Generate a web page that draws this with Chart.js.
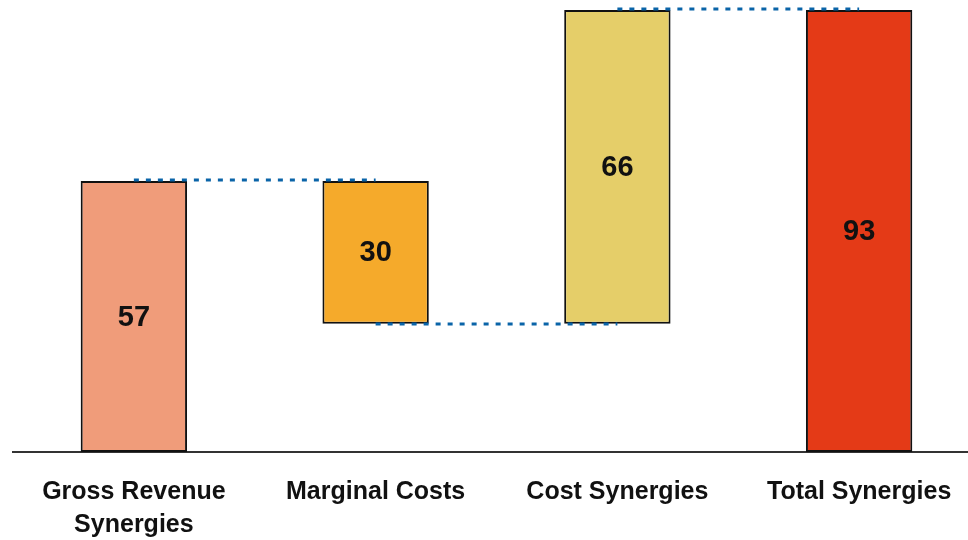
<!DOCTYPE html>
<html>
<head>
<meta charset="utf-8">
<script src="https://cdn.jsdelivr.net/npm/chart.js@4/dist/chart.umd.min.js"></script>
<style>
  html, body { margin: 0; padding: 0; background: #fff; overflow: hidden; }
  #wrap { width: 980px; height: 540px; }
</style>
</head>
<body>
<div id="wrap"><canvas id="grafico" width="980" height="540"></canvas></div>
<script>
// categorias e valores do waterfall
const categorias = [['Gross Revenue', 'Synergies'], 'Marginal Costs', 'Cost Synergies', 'Total Synergies'];
const valores = [57, -30, 66, 93];
const ehTotal = [false, false, false, true];
const cores = ['#F09C7A', '#F5AA2B', '#E5CE69', '#E43A17'];

// monta os intervalos [inicio, fim] de cada barra a partir dos valores
var acumulado = 0;
const intervalos = [];
for (var i = 0; i < valores.length; i++) {
    if (ehTotal[i]) {
        intervalos.push([0, valores[i]]);
        acumulado = valores[i];
    } else {
        intervalos.push([acumulado, acumulado + valores[i]]);
        acumulado += valores[i];
    }
}

// linhas pontilhadas ligando o fim de uma barra ao começo da próxima
const conectores = {
    id: 'conectores',
    afterDatasetsDraw(chart) {
        const ctx = chart.ctx;
        const x = chart.scales.x;
        const y = chart.scales.y;
        ctx.save();
        ctx.strokeStyle = '#0A64A8';
        ctx.lineWidth = 3;
        ctx.setLineDash([5, 7]);
        for (var i = 0; i < intervalos.length - 1; i++) {
            const nivel = intervalos[i][1];
            const topo = nivel >= Math.max(intervalos[i + 1][0], intervalos[i + 1][1]);
            const py = y.getPixelForValue(nivel) + (topo ? -1 : 0.3);
            ctx.beginPath();
            ctx.moveTo(x.getPixelForValue(i), py);
            ctx.lineTo(x.getPixelForValue(i + 1), py);
            ctx.stroke();
        }
        ctx.restore();
    }
};

// valor escrito no meio de cada barra
const rotulos = {
    id: 'rotulos',
    afterDatasetsDraw(chart) {
        const ctx = chart.ctx;
        const meta = chart.getDatasetMeta(0);
        ctx.save();
        ctx.font = 'bold 29px "Liberation Sans", Arial, sans-serif';
        ctx.fillStyle = '#111';
        ctx.textAlign = 'center';
        ctx.textBaseline = 'middle';
        meta.data.forEach(function (barra, i) {
            ctx.fillText(String(Math.abs(valores[i])), barra.x, (barra.y + barra.base) / 2 + 1);
        });
        ctx.restore();
    }
};

const configChart = {
    type: 'bar',
    data: {
        labels: categorias,
        datasets: [{
            data: intervalos,
            backgroundColor: cores,
            borderColor: '#111',
            borderWidth: 2,
            borderSkipped: false,
            categoryPercentage: 1,
            barPercentage: 0.44
        }]
    },
    options: {
        responsive: false,
        animation: false,
        layout: { padding: { top: 10, left: 13, right: 0, bottom: 0 } },
        plugins: { legend: { display: false }, tooltip: { enabled: false } },
        scales: {
            y: { display: false, min: 0, max: 93 },
            x: {
                afterFit(scale) { scale.height = 88; },
                grid: { display: false, drawTicks: false },
                border: { display: true, color: '#333', width: 2 },
                ticks: {
                    padding: 24,
                    color: '#111',
                    maxRotation: 0,
                    autoSkip: false,
                    font: { family: '"Liberation Sans", Arial, sans-serif', size: 25, weight: 'bold', lineHeight: 1.32 }
                }
            }
        }
    },
    plugins: [conectores, rotulos]
};

new Chart(document.getElementById('grafico'), configChart);
</script>
</body>
</html>
